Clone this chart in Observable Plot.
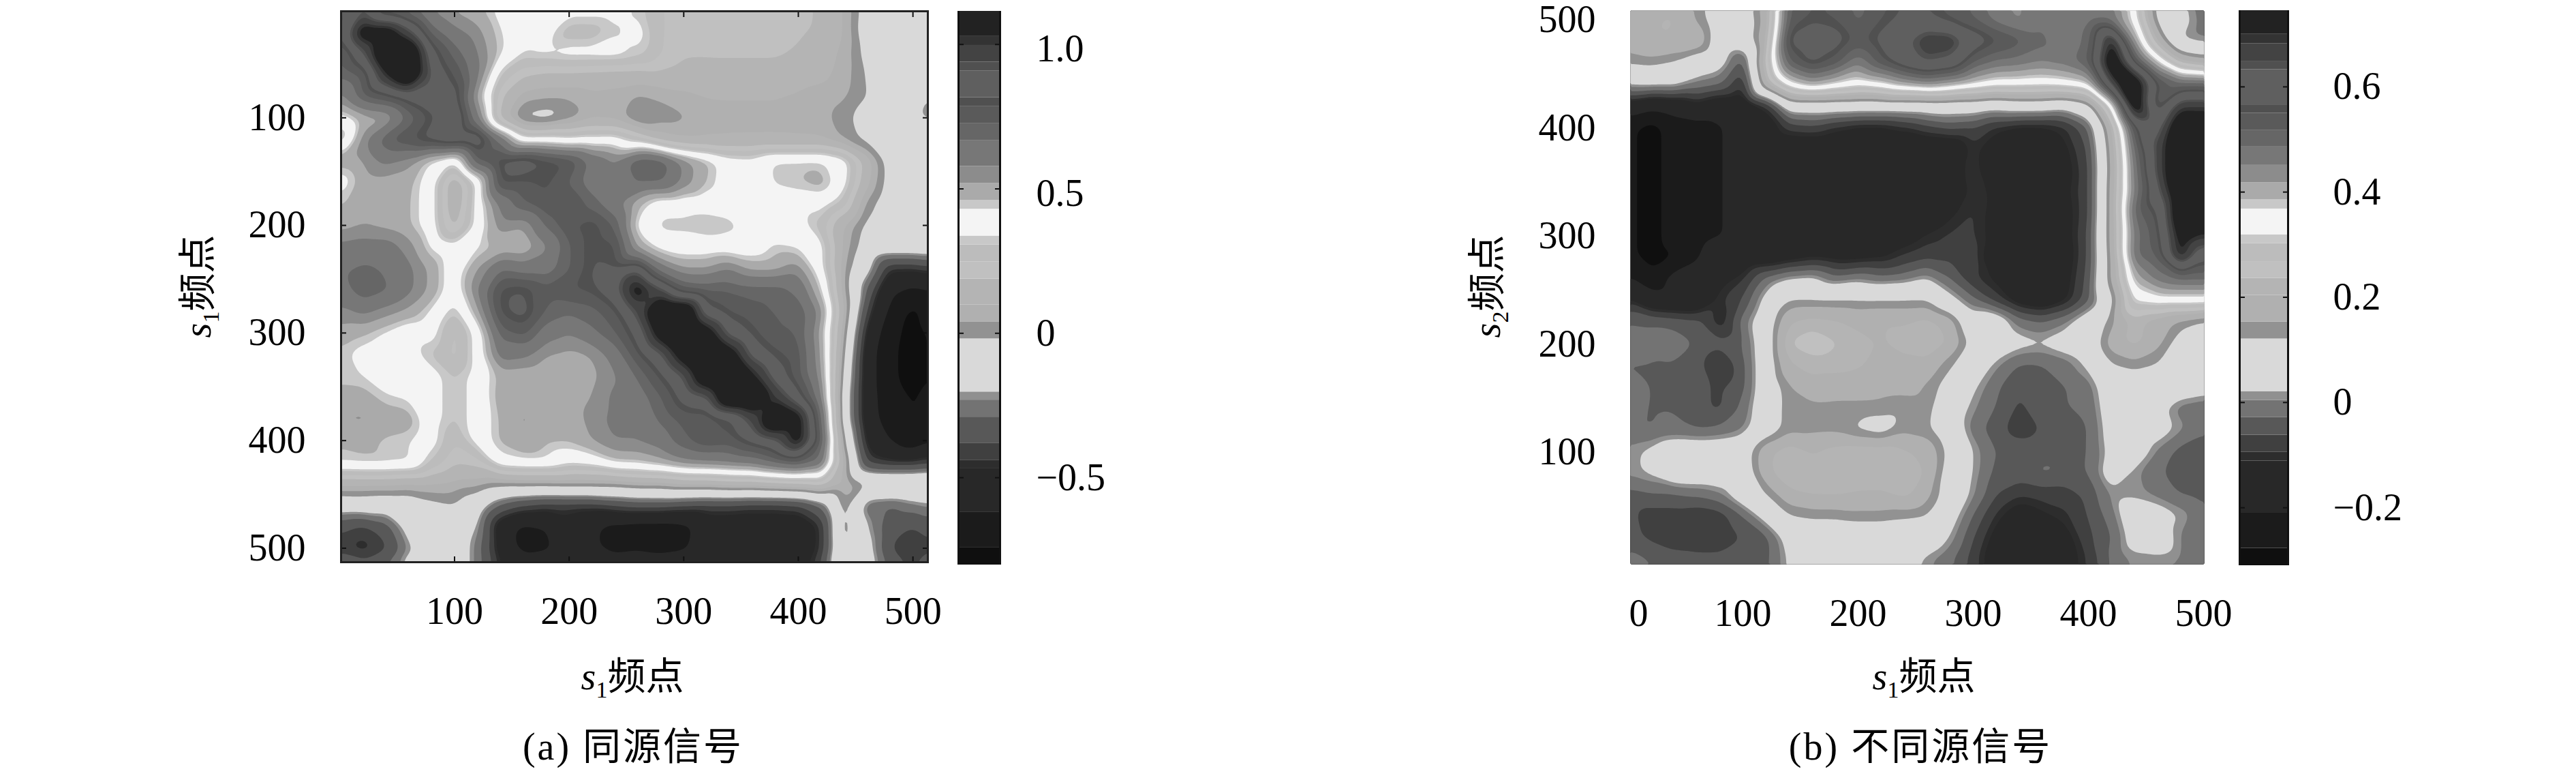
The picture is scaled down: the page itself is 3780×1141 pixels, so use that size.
<!DOCTYPE html>
<html><head><meta charset="utf-8">
<script src="https://cdn.jsdelivr.net/npm/d3@7"></script>
<script src="https://cdn.jsdelivr.net/npm/@observablehq/plot@0.6"></script>
<style>
html,body{margin:0;padding:0;background:#fff}
#root{position:relative;width:3780px;height:1141px;overflow:hidden;font-family:"Liberation Serif","Noto Sans CJK SC",serif;color:#000}
#root svg{position:absolute;background:transparent;overflow:visible}
.lbl{position:absolute;white-space:nowrap;transform:translate(-50%,-50%);font-size:56px;line-height:1}
.cap{letter-spacing:3px}
.lbl sub{font-size:34px;line-height:0}
.rot{transform:translate(-50%,-50%) rotate(-90deg)}
</style></head><body><div id="root"></div>
<script>
const xs = [0,20,40,60,80,100,120,140,160,180,200,220,240,260,280,300,320,340,360,380,400,420,440,460,480,500,520];
const ysA = [0,20,40,60,80,100,120,140,160,180,200,220,240,260,280,300,320,340,360,380,400,420,440,460,480,500,520];
const ysB = [520,500,480,460,440,420,400,380,360,340,320,300,280,260,240,220,200,180,160,140,120,100,80,60,40,20,0,-20];
const gridA = [
[.80,.90,.70,.66,.56,.50,.47,.40,.37,.37,.37,.37,.37,.33,.25,.22,.22,.20,.22,.22,.22,.17,.10,-.08,-.12,-.19,-.10],
[.78,1.12,1.12,.95,.70,.60,.54,.43,.38,.37,.27,.27,.33,.37,.25,.22,.22,.20,.20,.21,.20,.17,.10,-.10,-.12,-.20,-.10],
[.70,.90,1.20,1.20,.85,.70,.58,.44,.33,.35,.37,.37,.37,.33,.25,.20,.20,.20,.20,.20,.18,.14,.08,-.06,-.12,-.12,-.10],
[.68,.74,1.03,1.20,.90,.78,.60,.30,.20,.17,.17,.16,.15,.15,.17,.15,.14,.15,.15,.15,.13,.12,.07,-.03,-.10,-.12,-.22],
[.55,.72,.78,.86,.92,.86,.50,.20,.07,.05,.05,.08,.07,.03,.05,.08,.10,.10,.10,.10,.09,.07,.05,-.02,-.10,-.17,-.22],
[.38,.48,.50,.68,.80,.93,.60,.15,-.05,-.07,.00,.08,.07,-.03,.01,.03,.08,.09,.09,.09,.08,.06,.01,-.08,-.11,-.18,-.25],
[.25,.55,.72,.78,.85,.90,.92,.65,.37,.38,.35,.37,.38,.28,.15,.10,.10,.10,.10,.10,.10,.10,.03,-.05,-.10,-.14,-.12],
[.49,.52,.60,.55,.42,.33,.75,.83,.88,.82,.78,.65,.58,.73,.72,.56,.47,.38,.37,.44,.44,.44,.38,.15,-.08,-.10,-.10],
[.38,.49,.49,.48,.38,.10,.35,.80,.78,.80,.72,.62,.56,.68,.68,.56,.46,.38,.37,.44,.46,.49,.37,.12,-.07,-.10,-.10],
[.45,.49,.49,.47,.38,.10,.37,.60,.72,.78,.80,.70,.60,.47,.37,.37,.37,.37,.37,.37,.37,.37,.28,.02,-.10,-.10,-.10],
[.49,.52,.50,.47,.38,.15,.37,.55,.52,.68,.78,.82,.72,.40,.32,.32,.30,.32,.37,.37,.37,.28,.10,-.05,-.10,-.10,-.10],
[.60,.62,.62,.55,.42,.37,.42,.47,.46,.56,.72,.82,.80,.50,.40,.38,.38,.38,.38,.44,.42,.37,.08,-.08,-.10,-.10,-.10],
[.65,.68,.66,.60,.50,.37,.52,.66,.62,.62,.72,.82,.82,.90,.62,.52,.52,.58,.50,.50,.55,.37,.05,-.15,-.45,-.45,-.40],
[.62,.72,.68,.60,.50,.37,.58,.80,.82,.75,.78,.80,.88,1.10,.95,.75,.72,.72,.70,.70,.65,.45,.05,-.30,-.60,-.65,-.60],
[.56,.60,.55,.50,.42,.30,.50,.80,.85,.72,.68,.70,.78,.95,1.20,1.20,.85,.78,.75,.72,.72,.55,.10,-.40,-.65,-.77,-.65],
[.50,.47,.42,.37,.37,.22,.37,.70,.75,.62,.58,.65,.72,.85,1.10,1.25,1.10,.88,.80,.73,.72,.50,.05,-.50,-.70,-.78,-.70],
[.45,.40,.37,.37,.30,.22,.37,.62,.60,.52,.50,.52,.62,.78,.90,1.10,1.25,1.10,.88,.80,.75,.52,.00,-.55,-.72,-.78,-.70],
[.44,.43,.38,.38,.37,.30,.37,.48,.47,.46,.47,.50,.57,.68,.80,.92,1.15,1.25,1.05,.87,.75,.55,-.05,-.55,-.72,-.78,-.72],
[.49,.49,.44,.42,.37,.30,.37,.49,.50,.47,.48,.52,.60,.62,.72,.85,.90,1.20,1.20,1.00,.85,.60,-.10,-.55,-.70,-.75,-.70],
[.52,.53,.50,.49,.37,.30,.37,.47,.53,.50,.47,.55,.60,.60,.68,.75,.74,.80,.95,1.20,1.10,.70,-.10,-.55,-.68,-.75,-.68],
[.47,.48,.45,.44,.37,.25,.37,.47,.52,.47,.47,.52,.58,.58,.62,.72,.78,.76,.84,.90,1.10,.75,.00,-.50,-.62,-.72,-.60],
[.44,.45,.45,.44,.30,.20,.22,.40,.42,.42,.36,.38,.45,.46,.50,.56,.58,.60,.62,.70,.75,.65,.10,-.40,-.45,-.45,-.40],
[.12,.12,.12,.10,.10,.08,.07,.03,.04,.04,.05,.05,.05,.08,.08,.12,.12,.15,.15,.18,.20,.25,.10,.00,.00,.00,.00],
[-.12,-.11,-.13,-.12,-.05,-.02,-.12,-.30,-.38,-.42,-.42,-.42,-.38,-.35,-.35,-.38,-.40,-.40,-.42,-.42,-.40,-.28,.05,-.28,-.30,-.25,-.20],
[-.35,-.40,-.33,-.15,-.12,-.11,-.20,-.55,-.65,-.62,-.52,-.60,-.66,-.68,-.68,-.66,-.55,-.55,-.55,-.55,-.56,-.45,.05,-.20,-.35,-.38,-.30],
[-.42,-.48,-.40,-.22,-.12,-.11,-.25,-.52,-.66,-.64,-.55,-.60,-.66,-.64,-.66,-.64,-.55,-.55,-.55,-.55,-.55,-.45,.02,-.15,-.38,-.47,-.35],
[-.25,-.26,-.22,-.11,-.11,-.11,-.25,-.45,-.50,-.50,-.50,-.50,-.50,-.50,-.50,-.50,-.50,-.50,-.50,-.50,-.50,-.35,.02,-.10,-.28,-.35,-.30]
];
const gridB = [
[.15,.17,.17,.13,.07,.07,.20,.52,.53,.53,.50,.53,.55,.54,.52,.50,.47,.46,.47,.47,.47,.47,.33,.07,.01,-.01,.05],
[.17,.20,.21,.15,.07,.07,.17,.53,.56,.55,.51,.55,.58,.58,.55,.52,.47,.44,.48,.46,.47,.47,.35,.10,.05,-.01,.05],
[.17,.20,.20,.20,.07,.07,.20,.58,.60,.59,.54,.58,.62,.68,.68,.60,.56,.53,.50,.44,.50,.72,.42,.20,.02,.00,.05],
[.13,.14,.12,.07,.05,-.05,.25,.52,.58,.54,.46,.54,.60,.64,.62,.52,.48,.47,.45,.47,.52,.78,.55,.38,.22,.18,.12],
[.03,.04,.04,.00,-.02,-.10,.20,.36,.42,.38,.345,.37,.42,.45,.42,.38,.345,.345,.34,.35,.38,.66,.78,.56,.50,.50,.45],
[-.14,-.18,-.16,-.12,-.16,-.16,-.10,.07,.07,.07,.07,.07,.07,.07,.07,.07,.05,.07,.07,.05,.10,.34,.78,.52,.68,.68,.60],
[-.26,-.30,-.25,-.24,-.215,-.17,-.15,-.08,-.07,-.10,-.12,-.12,-.10,-.07,-.05,-.06,-.10,-.12,-.12,-.10,-.03,.20,.56,.60,.78,.76,.65],
[-.26,-.30,-.25,-.24,-.215,-.17,-.16,-.16,-.16,-.16,-.16,-.16,-.16,-.16,-.16,-.10,-.14,-.16,-.15,-.12,-.06,.17,.50,.66,.78,.76,.66],
[-.26,-.30,-.25,-.24,-.215,-.17,-.16,-.16,-.16,-.16,-.16,-.16,-.16,-.17,-.13,-.10,-.14,-.18,-.19,-.13,-.07,.16,.47,.66,.78,.76,.66],
[-.26,-.30,-.25,-.24,-.215,-.17,-.16,-.16,-.16,-.16,-.16,-.16,-.16,-.18,-.15,-.10,-.12,-.20,-.20,-.12,-.07,.17,.46,.62,.78,.76,.66],
[-.26,-.30,-.25,-.24,-.215,-.17,-.16,-.16,-.16,-.16,-.16,-.16,-.16,-.15,-.12,-.09,-.13,-.20,-.20,-.13,-.07,.17,.50,.56,.78,.76,.66],
[-.26,-.30,-.25,-.24,-.215,-.17,-.16,-.16,-.16,-.16,-.16,-.16,-.14,-.11,-.09,-.09,-.13,-.20,-.20,-.13,-.06,.17,.47,.54,.74,.70,.62],
[-.26,-.30,-.28,-.22,-.14,-.16,-.16,-.14,-.12,-.13,-.13,-.12,-.09,-.07,-.07,-.08,-.16,-.20,-.20,-.14,-.06,.16,.48,.52,.72,.58,.50],
[-.20,-.26,-.18,-.17,-.13,-.10,-.02,.02,.03,-.02,.00,-.02,-.01,.02,-.03,-.09,-.12,-.17,-.17,-.13,-.05,.16,.40,.47,.50,.50,.47],
[-.10,-.17,-.18,-.18,-.10,-.06,.04,.12,.12,.12,.12,.12,.12,.12,.04,-.02,-.08,-.14,-.16,-.12,-.04,.10,.33,.35,.35,.35,.35],
[-.03,-.03,-.04,-.05,-.12,-.01,.07,.20,.22,.21,.19,.20,.20,.22,.18,.05,.07,-.01,-.03,.00,.07,.14,.22,.18,.14,.11,.12],
[.00,-.02,-.01,-.03,-.05,-.03,.07,.24,.26,.24,.22,.20,.22,.24,.20,.10,.07,.04,.03,.05,.07,.18,.22,.17,.09,.07,.07],
[-.03,-.03,-.03,-.05,-.10,-.04,.07,.20,.22,.22,.21,.19,.19,.19,.13,.07,.01,-.03,-.03,-.01,.03,.12,.14,.12,.07,.07,.07],
[-.01,-.03,-.03,-.05,-.07,-.04,.07,.15,.19,.18,.18,.17,.17,.15,.09,.03,-.02,-.06,-.03,-.03,-.01,.07,.07,.07,.07,.05,.05],
[-.02,-.03,-.03,-.05,-.07,-.02,.08,.14,.14,.14,.14,.14,.13,.14,.06,.01,-.03,-.07,-.04,-.03,-.02,.06,.07,.04,-.01,-.02,.00],
[-.03,-.03,-.02,-.03,-.02,.00,.08,.14,.14,.14,.11,.09,.14,.13,.07,-.01,-.05,-.08,-.06,-.05,-.03,.05,.07,.05,.01,-.02,-.02],
[.01,.03,.07,.07,.07,.08,.19,.23,.20,.22,.23,.23,.21,.19,.10,.02,-.03,-.04,-.04,-.04,-.03,.04,.07,.00,-.04,-.05,-.05],
[.01,.03,.07,.07,.07,.07,.19,.24,.22,.23,.23,.22,.24,.20,.08,.02,-.04,-.04,-.02,-.03,-.03,.06,.01,-.02,-.05,-.05,-.05],
[-.04,-.03,-.03,-.02,.00,.07,.12,.19,.21,.21,.20,.20,.22,.17,.08,.01,-.06,-.09,-.08,-.08,-.05,.01,.01,-.005,-.03,-.04,-.04],
[-.05,-.08,-.08,-.09,-.08,-.03,.05,.12,.13,.13,.14,.14,.13,.12,.05,-.03,-.10,-.14,-.12,-.10,-.06,-.01,.07,.05,.02,-.02,-.03],
[-.05,-.07,-.08,-.09,-.09,-.06,-.04,.05,.07,.07,.07,.07,.07,.07,.02,-.06,-.13,-.16,-.15,-.13,-.07,-.03,.05,.07,.00,-.01,-.01],
[-.01,-.03,-.05,-.05,-.05,-.05,-.04,.03,.07,.07,.07,.07,.05,.01,-.02,-.08,-.15,-.16,-.16,-.14,-.09,-.02,.01,.01,.00,.00,.00],
[-.01,-.02,-.03,-.03,-.03,-.03,-.02,.03,.07,.07,.07,.07,.05,.02,-.01,-.06,-.12,-.13,-.13,-.12,-.08,-.02,.01,.01,.00,.00,.00]
];
const grays = ["#0f0f0f","#1b1b1b","#282828","#2d2d2d","#404040","#585858","#737373","#909090","#d9d9d9","#929292","#b0b0b0","#b4b4b4","#c0c0c0","#bcbcbc","#c8c8c8","#f4f4f4","#c8c8c8","#aaaaaa","#8c8c8c","#777777","#666666","#5a5a5a","#505050","#5f5f5f","#505050","#434343","#333333","#222222"];
const levelsA = [-.802,-.741,-.620,-.469,-.439,-.380,-.290,-.231,-.203,-.019,.040,.099,.188,.247,.306,.337,.430,.460,.519,.578,.667,.726,.785,.816,.908,.939,.997,1.028,1.115];
const levelsB = [-.31,-.277,-.209,-.111,-.094,-.062,-.028,.004,.021,.121,.153,.204,.236,.268,.302,.319,.368,.386,.418,.451,.486,.518,.55,.566,.633,.649,.682,.70,.745];
const ticksAxis = [100,200,300,400,500];
const barTicksA = [1,.5,0,-.5];
const barLabelsA = ["1.0","0.5","0","\u22120.5"];
const barTicksB = [.6,.4,.2,0,-.2];
const barLabelsB = ["0.6","0.4","0.2","0","\u22120.2"];
const font = '"Liberation Serif","Noto Sans CJK SC",serif';
const root = document.getElementById("root");
const toPoints = (grid, ys) => grid.flatMap((row, j) => row.map((v, i) => ({x: xs[i], y: ys[j], v})));
const place = (svg, left, top) => { svg.style.left = left + "px"; svg.style.top = top + "px"; root.appendChild(svg); };
const base = {style:{fontFamily:font,fontSize:"56px",background:"transparent"}};

function heat(o){
  const ml=220, mr=30, mb=110, mt=o.top;
  const marks=[
    Plot.contour(o.points,{x:"x",y:"y",fill:"v",interpolate:"barycentric",pixelSize:3,blur:2,thresholds:[-5,...o.levels.slice(1,-1)],stroke:"none"}),
    Plot.axisX(ticksAxis,{anchor:"bottom",tickSize:0,tickPadding:51,label:null,fill:"#000",lineAnchor:"top",tickFormat:d=>String(d)}),
    Plot.axisY(ticksAxis,{anchor:"left",tickSize:0,tickPadding:o.padY,label:null,fill:"#000",dy:o.dyY,tickFormat:d=>String(d)})
  ];
  if(o.zeroLabel) marks.push(Plot.axisX([0],{anchor:"bottom",tickSize:0,tickPadding:51,label:null,fill:"#000",lineAnchor:"top",dx:16,tickFormat:d=>String(d)}));
  if(o.framed) marks.push(
    Plot.axisX(ticksAxis,{anchor:"bottom",tickSize:-8,fill:"none",label:null,stroke:"#111",strokeWidth:2}),
    Plot.axisX(ticksAxis,{anchor:"top",tickSize:-8,fill:"none",label:null,stroke:"#111",strokeWidth:2}),
    Plot.axisY(ticksAxis,{anchor:"left",tickSize:-8,fill:"none",label:null,stroke:"#111",strokeWidth:2}),
    Plot.axisY(ticksAxis,{anchor:"right",tickSize:-8,fill:"none",label:null,stroke:"#111",strokeWidth:2}),
    Plot.frame({stroke:"#222",strokeWidth:3})
  );
  const svg=Plot.plot({...base,width:o.w+ml+mr,height:o.h+mt+mb,marginLeft:ml,marginRight:mr,marginTop:mt,marginBottom:mb,
    x:{domain:o.xd,label:null},y:{domain:o.yd,reverse:o.rev,label:null},
    color:{type:"threshold",domain:o.levels.slice(1,-1),range:grays},marks});
  place(svg,o.left-ml,0);
}
function bar(o){
  const bands=grays.map((g,i)=>({g,lo:o.levels[i],hi:o.levels[i+1]}));
  const mt=o.top,mb=60,mr=330;
  const fmt=d=>o.labels[o.ticks.indexOf(d)];
  const low=o.ticks.filter(t=>o.shift.includes(t)), rest=o.ticks.filter(t=>!o.shift.includes(t));
  const svg=Plot.plot({...base,width:o.w+mr+4,height:o.h+mt+mb,marginLeft:4,marginRight:mr,marginTop:mt,marginBottom:mb,
    x:{domain:[0,1],axis:null},y:{domain:[o.levels[0],o.levels[28]],label:null},
    marks:[
      Plot.rect(bands,{x1:()=>0,x2:()=>1,y1:"lo",y2:"hi",fill:"g"}),
      Plot.axisY(o.ticks,{anchor:"left",tickSize:-8,fill:"none",label:null,stroke:"#111",strokeWidth:2}),
      Plot.axisY(o.ticks,{anchor:"right",tickSize:-8,fill:"none",label:null,stroke:"#111",strokeWidth:2}),
      Plot.axisY(rest,{anchor:"right",tickSize:0,tickPadding:o.pad,label:null,fill:"#000",textAnchor:"start",tickFormat:fmt}),
      low.length?Plot.axisY(low,{anchor:"right",tickSize:0,tickPadding:o.pad,label:null,fill:"#000",textAnchor:"start",dy:7,tickFormat:fmt}):null,
      Plot.ruleX([0,1],{stroke:"#111",strokeWidth:3})
    ]});
  place(svg,o.left-4,0);
}
heat({left:500,top:16,w:861,h:808,xd:[1,513],yd:[1,513],rev:true,points:toPoints(gridA,ysA),levels:levelsA,framed:true,padY:52,dyY:0});
bar({left:1406,top:16,w:61,h:812,levels:levelsA,ticks:barTicksA,labels:barLabelsA,pad:53,shift:[1,.5]});
heat({left:2392,top:15,w:842,h:812,xd:[2.4,500.6],yd:[-5,507.6],rev:false,points:toPoints(gridB,ysB),levels:levelsB,framed:false,padY:51,dyY:2,zeroLabel:true});
bar({left:3286,top:15,w:71,h:814,levels:levelsB,ticks:barTicksB,labels:barLabelsB,pad:66,shift:[]});

function label(html,x,y,cls){const d=document.createElement("div");d.className="lbl "+(cls||"");d.style.left=x+"px";d.style.top=y+"px";d.innerHTML=html;root.appendChild(d);}
label("<i>s</i><sub>1</sub>频点",928,992);
label("(a) 同源信号",929,1095,"cap");
label("<i>s</i><sub>1</sub>频点",2823,992);
label("(b) 不同源信号",2818,1095,"cap");
label("<i>s</i><sub>1</sub>频点",290,420,"rot");
label("<i>s</i><sub>2</sub>频点",2182,420,"rot");
</script></body></html>
